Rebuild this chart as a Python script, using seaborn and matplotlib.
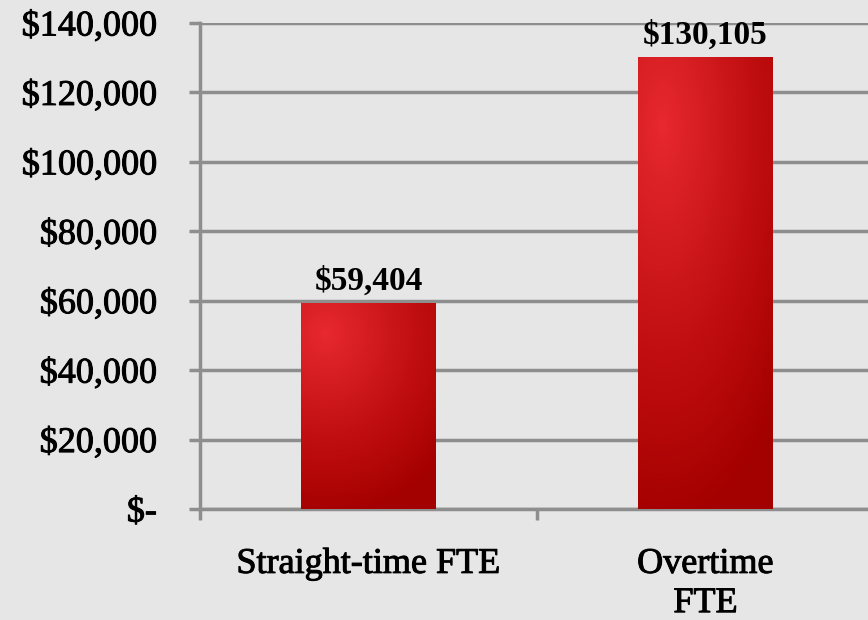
import numpy as np
import matplotlib
matplotlib.use("Agg")
import matplotlib.pyplot as plt
import matplotlib.colors as mcolors
import matplotlib.patheffects as pe
import seaborn as sns

# data
categories = ["Straight-time FTE", "Overtime\nFTE"]
costs = [59404, 130105]
y_ticks = [0, 20000, 40000, 60000, 80000, 100000, 120000, 140000]

BG = "#e6e6e6"
GRID = "#8e8e8e"

sns.set_style("white")
plt.rcParams["font.family"] = ["Liberation Serif", "DejaVu Serif"]

fig = plt.figure(figsize=(8.68, 6.2), dpi=100, facecolor=BG)
ax = fig.add_axes([200 / 868, 111 / 620, 674 / 868, 486 / 620])
ax.set_facecolor(BG)

sns.barplot(x=categories, y=costs, color="#b00000", width=0.4, ax=ax, zorder=3)

ax.set_xlim(-0.5, 1.5)
ax.set_ylim(0, 140000)

# radial red gradient inside each bar, bright spot near the upper left
cmap = mcolors.LinearSegmentedColormap.from_list(
    "bar", [(0, "#ea2a30"), (0.35, "#d61e22"), (0.75, "#ba0a0b"), (1, "#a30000")])
for p in ax.patches:
    x0, y0 = p.get_x(), p.get_y()
    w, h = p.get_width(), p.get_height()
    xx, yy = np.meshgrid(np.linspace(0, 1, 120), np.linspace(0, 1, 300))
    cx, cy = 0.18, 0.85
    d = np.sqrt(((xx - cx) * 0.75) ** 2 + (yy - cy) ** 2) / 0.9
    d = np.clip(d, 0, 1) ** 0.75
    im = ax.imshow(d, cmap=cmap, origin="lower", extent=(x0, x0 + w, y0, y0 + h),
                   aspect="auto", zorder=3, vmin=0, vmax=1, interpolation="bilinear")
    im.set_clip_path(p)
    p.set_facecolor("none")
    p.set_edgecolor("none")

# value labels
for p, v in zip(ax.patches, costs):
    ax.text(p.get_x() + p.get_width() / 2, p.get_height() + 1800, f"${v:,}",
            ha="center", va="bottom", fontsize=24, fontweight="bold", color="black", zorder=5)

# gridlines and axes
ax.set_yticks(y_ticks)
ax.set_yticklabels(["$-"] + [f"${t:,}" for t in y_ticks[1:]])
ax.yaxis.grid(True, color=GRID, linewidth=2.5, zorder=1)
ax.set_axisbelow(True)
for s in ["top", "right"]:
    ax.spines[s].set_visible(False)
for s in ["left", "bottom"]:
    ax.spines[s].set_color(GRID)
    ax.spines[s].set_linewidth(2.5)
    ax.spines[s].set_zorder(2)

ax.tick_params(axis="y", which="major", length=8, width=2.5, color=GRID,
               pad=23, labelsize=26, labelcolor="black", left=True)
ax.tick_params(axis="x", which="major", length=0, pad=28, labelsize=26, labelcolor="black")
ax.set_xticks([-0.5, 0.5], minor=True)
ax.tick_params(axis="x", which="minor", length=8, width=2.5, color=GRID, bottom=True)

heavier = [pe.withStroke(linewidth=0.7, foreground="black")]
for lbl in ax.get_xticklabels():
    lbl.set_linespacing(1.25)
    lbl.set_path_effects(heavier)
for lbl in ax.get_yticklabels():
    lbl.set_path_effects(heavier)

ax.set_xlabel("")
ax.set_ylabel("")

fig.savefig("out.png", dpi=100, facecolor=BG)
